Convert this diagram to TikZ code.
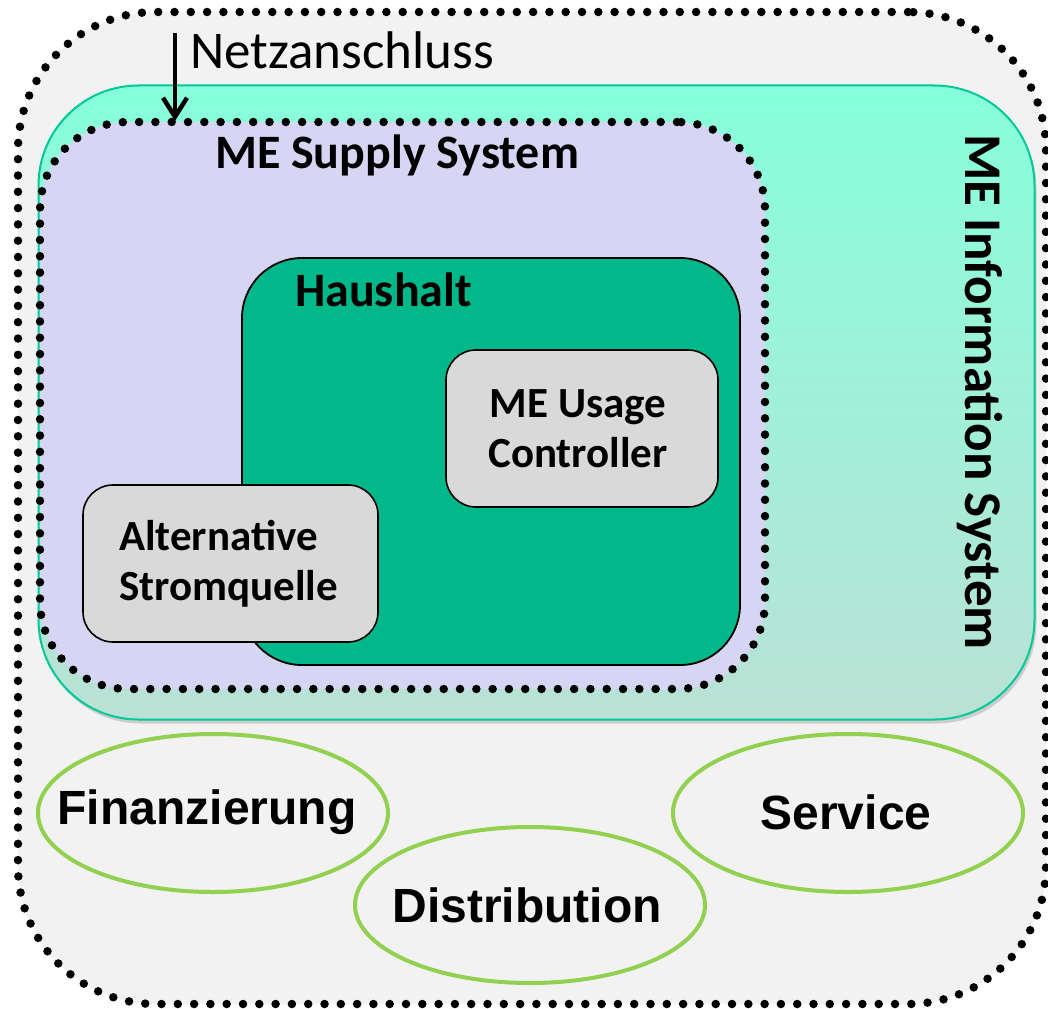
\documentclass[tikz,border=0pt]{standalone}
\usepackage{fontspec}
\setmainfont{Carlito}
\newfontfamily\arialfont{Liberation Sans}
\usetikzlibrary{arrows.meta,shadows}
\definecolor{paleGray}{HTML}{F2F2F2}
\definecolor{infoTop}{HTML}{86FFDA}
\definecolor{infoBottom}{HTML}{BAE1D5}
\definecolor{infoLine}{HTML}{00C896}
\definecolor{supplyFill}{HTML}{D6D6F4}
\definecolor{houseFill}{HTML}{00B88A}
\definecolor{boxGray}{HTML}{D9D9D9}
\definecolor{leafGreen}{HTML}{92D050}
\tikzset{
  dotline/.style={line width=8.5pt, line cap=round, dash pattern=on 0pt off 16.3pt},
  container/.style={inner sep=0pt, outer sep=0pt},
  graybox/.style={container, draw=black, line width=1.6pt, fill=boxGray, rounded corners=30pt},
  topicline/.style={draw=leafGreen, line width=4pt, fill=paleGray},
  topic/.style={inner sep=0pt, font=\arialfont\bfseries\fontsize{48}{56}\selectfont},
  heading/.style={font=\bfseries\fontsize{48}{56}\selectfont, inner sep=0pt},
  boxtext/.style={font=\bfseries\fontsize{43}{52}\selectfont, inner sep=0pt}
}
\begin{document}
\begin{tikzpicture}[x=1pt,y=-1pt]
\useasboundingbox (0,0) rectangle (1048,1008);
\fill[white] (0,0) rectangle (1048,1008);

% overall frame
\node[container, dotline, draw=black, fill=paleGray, rounded corners=138pt,
      minimum width=1028pt, minimum height=992pt] (outer) at (532,508) {};

% information system layer
\node[container, draw=infoLine, line width=2pt, rounded corners=100pt,
      top color=infoTop, bottom color=infoBottom,
      drop shadow={shadow xshift=2pt, shadow yshift=-4pt, opacity=0.15, fill=black},
      minimum width=996pt, minimum height=634pt] (info) at (536.5,402.5) {};
\node[heading, font=\bfseries\fontsize{53}{60}\selectfont, rotate=-90] (infolabel) at (980,392) {ME Information System};

% supply system
\node[container, dotline, draw=black, fill=supplyFill, rounded corners=88pt,
      minimum width=725pt, minimum height=567pt] (supply) at (402.5,405.5) {};
\node[heading, anchor=base] (supplylabel) at (397,169) {ME Supply System};

% household
\node[container, draw=black, line width=1.8pt, fill=houseFill, rounded corners=60pt,
      minimum width=498pt, minimum height=407pt] (house) at (491,461.5) {};
\node[heading, anchor=base west] (houselabel) at (295,306) {Haushalt};

% components
\node[graybox, minimum width=272pt, minimum height=157pt] (usage) at (582,428.5) {};
\node[boxtext, align=center] (usagelabel) at (578,429) {ME Usage\\[-2pt]Controller};

\node[graybox, minimum width=295pt, minimum height=157pt] (alt) at (230.5,563.5) {};
\node[boxtext, align=left, anchor=west] (altlabel) at (119,564) {Alternative\\[-2pt]Stromquelle};

% grid connection
\coordinate (gridtop) at (175,33);
\coordinate (gridin) at (175,121);
\draw[line width=4.5pt, -{Straight Barb[length=19pt, width=24pt, line width=4.5pt]}] (gridtop) -- (gridin);
\node[font=\fontsize{53}{64}\selectfont, anchor=base west, inner sep=0pt] (grid) at (190,69) {Netzanschluss};

% business topics
\coordinate (fincentre) at (213,813);
\coordinate (distcentre) at (530,905);
\coordinate (servcentre) at (848,813);
\path[topicline] (fincentre) ellipse [x radius=175pt, y radius=79pt];
\path[topicline] (distcentre) ellipse [x radius=175pt, y radius=78pt];
\path[topicline] (servcentre) ellipse [x radius=175pt, y radius=79pt];
\node[topic] (fin) at (207,812) {Finanzierung};
\node[topic] (dist) at (527,905) {Distribution};
\node[topic] (serv) at (846,812) {Service};
\end{tikzpicture}
\end{document}
